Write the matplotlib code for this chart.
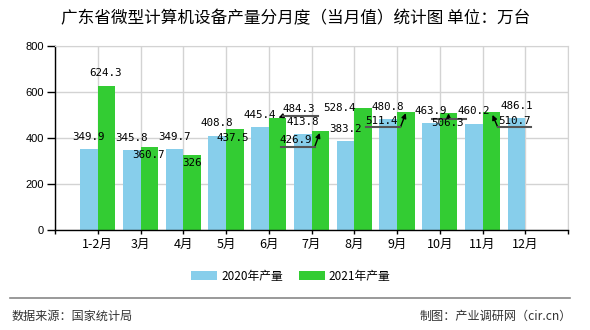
import matplotlib
matplotlib.use("Agg")
import numpy as np
from matplotlib import pyplot as plt

# 广东省微型计算机设备产量（当月值，万台）
months = ["1-2月", "3月", "4月", "5月", "6月", "7月", "8月", "9月", "10月", "11月", "12月"]
output_2020 = [349.9, 345.8, 349.7, 408.8, 445.4, 413.8, 383.2, 480.8, 463.9, 460.2, 486.1]
output_2021 = [624.3, 360.7, 326, 437.5, 484.3, 426.9, 528.4, 511.4, 506.3, 510.7, None]

CJK = ["Noto Sans CJK SC", "DejaVu Sans"]
BLUE = "#87CEEB"
GREEN = "#33CC33"
W = 0.41

# 2021 数值标签的像素偏移（相对柱顶中心）以及引线
# (dx, dy, underline(x0, x1, y) or None, arrow((x0, y0), (x1, y1)) or None)
label_2021_style = [
    (-1, 13, None, None),
    (-1, -8, None, None),
    (0, -8.5, None, None),
    (-2, -9, None, None),
    (21, 9.4, (5, 40, 2.4), ((6, 2.4), (1, 0.5))),
    (-24.5, -8.5, (-39, -5.5, -15.2), ((-5.5, -15.2), (-0.5, -1.5))),
    (-24, 0, None, None),
    (-24, -8.6, (-40, -5.3, -15.2), ((-5.3, -15.2), (0, -1.2))),
    (-1, -10, (-17, 17, -5.4), ((0, -5.4), (0, -0.2))),
    (23.5, -8.7, (6.5, 40, -15), ((6.5, -15), (1.2, -2.7))),
    None,
]

fig = plt.figure(figsize=(5.9, 3.3), dpi=100)
ax = fig.add_axes([55 / 590, 1 - 229.5 / 330, 513 / 590, 183.8 / 330])

x = np.arange(1, len(months) + 1)
ax.bar(x - W / 2, output_2020, width=W, color=BLUE, label="2020年产量", zorder=2)
x21 = [xi for xi, v in zip(x, output_2021) if v is not None]
v21 = [v for v in output_2021 if v is not None]
ax.bar(np.array(x21) + W / 2, v21, width=W, color=GREEN, label="2021年产量", zorder=2)

ax.set_xlim(0, 12)
ax.set_ylim(0, 800)
ax.set_yticks(range(0, 801, 200))
ax.set_xticks(range(0, 13))
ax.set_xticklabels([""] + months + [""], fontfamily=CJK, fontsize=9)
for t in ax.get_yticklabels():
    t.set_fontfamily("Liberation Sans")
    t.set_fontsize(8)
ax.tick_params(axis="y", length=6, width=1, pad=2)
ax.tick_params(axis="x", length=3, width=1, pad=3)
ax.grid(True, color="#d3d3d3", lw=1, zorder=0)
ax.set_axisbelow(True)
for s in ["top", "right"]:
    ax.spines[s].set_color("#d3d3d3")
for s in ["left", "bottom"]:
    ax.spines[s].set_color("black")
    ax.spines[s].set_linewidth(1)

fig.canvas.draw()
to_px = ax.transData.transform

mono = dict(fontfamily="DejaVu Sans Mono", fontsize=7.8, color="black", ha="center", va="center", zorder=5)

for xi, v in zip(x, output_2020):
    px, py = to_px((xi - W / 2, v))
    fig.text(px / 590, (py + 12.3) / 330, f"{v:g}", **mono)

for xi, v, st in zip(x, output_2021, label_2021_style):
    if v is None:
        continue
    dx, dy, line, arrow = st
    px, py = to_px((xi + W / 2, v))
    fig.text((px + dx) / 590, (py + dy) / 330, f"{v:g}", **mono)
    if line is not None:
        lx0, lx1, ly = line
        fig.add_artist(plt.Line2D([(px + lx0) / 590, (px + lx1) / 590],
                                  [(py + ly) / 330, (py + ly) / 330],
                                  color="#555555", lw=1.5, zorder=4))
    if arrow is not None:
        (ax0, ay0), (ax1, ay1) = arrow
        ax.annotate("", xy=(px + ax1, py + ay1), xycoords="figure pixels",
                    xytext=(px + ax0, py + ay0), textcoords="figure pixels",
                    arrowprops=dict(arrowstyle="-|>", color="black", lw=1,
                                    mutation_scale=7, shrinkA=0, shrinkB=0),
                    zorder=6)

fig.text(296 / 590, 1 - 19 / 330, "广东省微型计算机设备产量分月度（当月值）统计图 单位：万台",
         fontfamily=CJK, fontsize=12, ha="center", va="center")

leg = fig.legend(loc="center", bbox_to_anchor=(291 / 590, 1 - 276.5 / 330), ncol=2,
                 frameon=False, prop={"family": CJK, "size": 8.5},
                 handlelength=2.2, handleheight=0.8, handletextpad=0.3, columnspacing=1.4)

fig.add_artist(plt.Line2D([10 / 590, 570 / 590], [1 - 298.3 / 330] * 2, color="#888888", lw=1.2))
fig.text(12 / 590, 1 - 316 / 330, "数据来源：国家统计局", fontfamily=CJK, fontsize=8.7,
         color="#333333", ha="left", va="center")
fig.text(572 / 590, 1 - 316 / 330, "制图：产业调研网（cir.cn）", fontfamily=CJK, fontsize=8.7,
         color="#333333", ha="right", va="center")

fig.savefig("out.png", dpi=100)
